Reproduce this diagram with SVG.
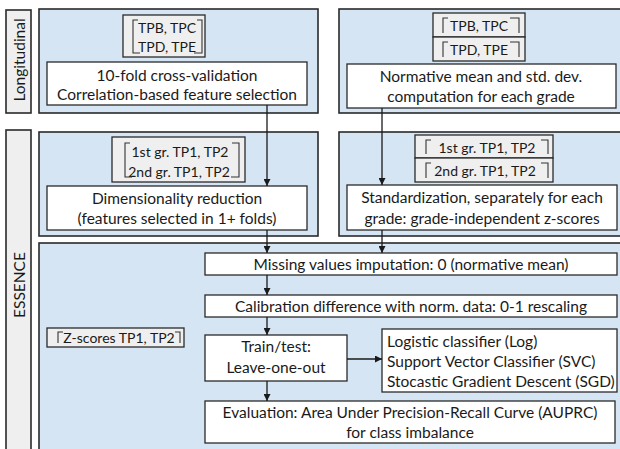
<svg xmlns="http://www.w3.org/2000/svg" width="620" height="449" viewBox="0 0 620 449">
<defs>
<style>
text{font-family:Lato,"Liberation Sans",sans-serif;font-size:15.5px;fill:#1a1a1a;text-anchor:middle;dominant-baseline:central}
.s{font-size:14px}
.panel{fill:#d5e5f3;stroke:#2a2a2a;stroke-width:1.6}
.lab{fill:#efefef;stroke:#2a2a2a;stroke-width:1.6}
.step{fill:#fff;stroke:#2a2a2a;stroke-width:1.3}
.tp{fill:#efefef;stroke:#2a2a2a;stroke-width:1.3}
.br{fill:none;stroke:#333;stroke-width:1.1}
.c{fill:none;stroke:#1a1a1a;stroke-width:1.3;marker-end:url(#ah)}
</style>
<marker id="ah" viewBox="0 0 8 8" refX="8" refY="4" markerWidth="7" markerHeight="7" markerUnits="userSpaceOnUse" orient="auto">
<path d="M0,0 L8,4 L0,8 z" fill="#1a1a1a"/>
</marker>
</defs>
<rect width="620" height="449" fill="#fff"/>

<g id="label-longitudinal">
<rect class="lab" x="6" y="10" width="25" height="103"/>
<text transform="translate(18.5,60) rotate(-90)">Longitudinal</text>
</g>
<g id="label-essence">
<rect class="lab" x="6" y="130" width="25" height="330"/>
<text transform="translate(18.5,285) rotate(-90)">ESSENCE</text>
</g>

<g id="panel-top-left">
<rect class="panel" x="39" y="9" width="279" height="104"/>
</g>
<g id="panel-top-right">
<rect class="panel" x="339" y="9" width="290" height="104"/>
</g>
<g id="panel-mid-left">
<rect class="panel" x="39" y="132" width="279" height="104"/>
</g>
<g id="panel-mid-right">
<rect class="panel" x="339" y="132" width="290" height="104"/>
</g>
<g id="panel-bottom">
<rect class="panel" x="39" y="243" width="590" height="220"/>
</g>

<g id="tp-top-left">
<rect class="tp" x="123" y="15" width="82" height="42"/>
<text class="s" x="167" y="27">TPB, TPC</text>
<text class="s" x="167" y="46">TPD, TPE</text>
<path class="br" d="M138,20 H133 V53 H140 M197,20 H202 V53 H194"/>
</g>
<g id="step-cv">
<rect class="step" x="47" y="62" width="260" height="43"/>
<text x="177" y="75">10-fold cross-validation</text>
<text x="177" y="94">Correlation-based feature selection</text>
</g>

<g id="tp-top-right">
<rect class="tp" x="433" y="13" width="92" height="24"/>
<rect class="tp" x="433" y="37" width="92" height="24"/>
<text class="s" x="479" y="25">TPB, TPC</text>
<text class="s" x="479" y="49">TPD, TPE</text>
<path class="br" d="M448,18 H443 V33 M510,18 H519 V33 M448,42 H443 V57 M510,42 H519 V57"/>
</g>
<g id="step-norm">
<rect class="step" x="347" y="64" width="269" height="44"/>
<text x="481" y="76">Normative mean and std. dev.</text>
<text x="481" y="96">computation for each grade</text>
</g>

<g id="tp-mid-left">
<rect class="tp" x="112" y="137" width="133" height="45"/>
<text class="s" x="180" y="151">1st gr. TP1, TP2</text>
<text class="s" x="179" y="171">2nd gr. TP1, TP2</text>
<path class="br" d="M130,143 H125 V177 H132 M232,143 H239 V177 H231"/>
</g>
<g id="step-dim">
<rect class="step" x="47" y="186" width="260" height="44"/>
<text x="177" y="198">Dimensionality reduction</text>
<text x="177" y="218">(features selected in 1+ folds)</text>
</g>

<g id="tp-mid-right">
<rect class="tp" x="415" y="135" width="138" height="23"/>
<rect class="tp" x="415" y="158" width="138" height="24"/>
<text class="s" x="487" y="147">1st gr. TP1, TP2</text>
<text class="s" x="485" y="170">2nd gr. TP1, TP2</text>
<path class="br" d="M431,140 H426 V154 M541,140 H548 V154 M431,163 H426 V178 M541,163 H548 V178"/>
</g>
<g id="step-std">
<rect class="step" x="347" y="185" width="270" height="45"/>
<text x="482" y="197">Standardization, separately for each</text>
<text x="482" y="218">grade: grade-independent z-scores</text>
</g>

<g id="step-missing">
<rect class="step" x="205" y="253" width="412" height="22"/>
<text x="411" y="264">Missing values imputation: 0 (normative mean)</text>
</g>
<g id="step-calib">
<rect class="step" x="205" y="295" width="412" height="22"/>
<text x="411" y="306">Calibration difference with norm. data: 0-1 rescaling</text>
</g>
<g id="zscores">
<rect class="tp" x="47" y="328" width="137" height="19"/>
<text class="s" x="119" y="337.5">Z-scores TP1, TP2</text>
<path class="br" d="M63,332 H58 V343 M175,332 H180 V343"/>
</g>
<g id="step-train">
<rect class="step" x="205" y="335" width="142" height="46"/>
<text x="276" y="346">Train/test:</text>
<text x="276" y="367">Leave-one-out</text>
</g>
<g id="classifiers">
<rect class="step" x="382" y="329" width="235" height="63"/>
<text x="387" y="341" style="text-anchor:start">Logistic classifier (Log)</text>
<text x="387" y="361" style="text-anchor:start">Support Vector Classifier (SVC)</text>
<text x="387" y="381" style="text-anchor:start">Stocastic Gradient Descent (SGD)</text>
</g>
<g id="step-eval">
<rect class="step" x="205" y="401" width="410" height="42"/>
<text x="410" y="412">Evaluation: Area Under Precision-Recall Curve (AUPRC)</text>
<text x="410" y="432">for class imbalance</text>
</g>

<g id="connectors">
<path class="c" d="M267,105 V186"/>
<path class="c" d="M382,108 V185"/>
<path class="c" d="M267,230 V253"/>
<path class="c" d="M382,230 V253"/>
<path class="c" d="M267,275 V295"/>
<path class="c" d="M267,317 V335"/>
<path class="c" d="M267,381 V401"/>
<path class="c" d="M347,359 H382"/>
</g>
</svg>
